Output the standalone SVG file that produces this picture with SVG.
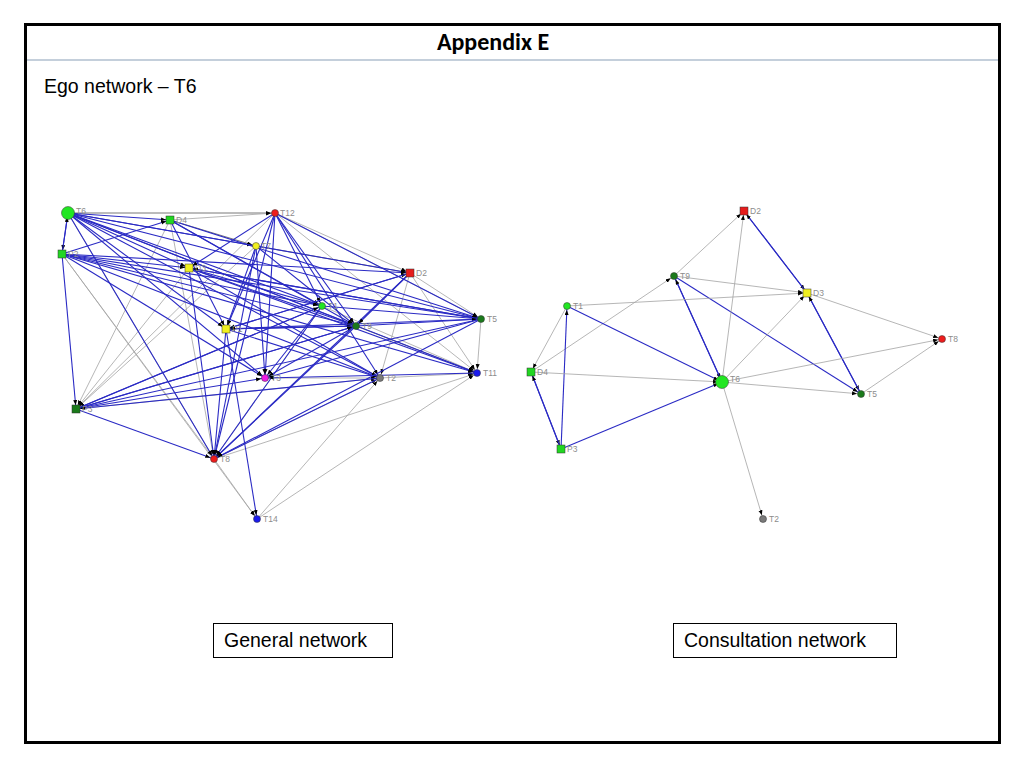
<svg xmlns="http://www.w3.org/2000/svg" width="1024" height="768" viewBox="0 0 1024 768">
<defs>
<style>
.b{stroke:#2a2ac4;stroke-width:1.1;fill:none}
.g{stroke:#a3a3a3;stroke-width:0.8;fill:none}
.k{stroke:#555;stroke-width:0.8;fill:none}
.lbl{font-family:"Liberation Sans",Arial,sans-serif;font-size:8.5px;fill:#8c8c8c}
.nd{stroke:#333;stroke-width:0.5}
.box{fill:#fff;stroke:#000;stroke-width:1}
.cap{font-family:"Liberation Sans",Arial,sans-serif;font-size:19.5px;fill:#000}
</style>
<marker id="a" markerUnits="userSpaceOnUse" markerWidth="6" markerHeight="5" refX="9" refY="2" orient="auto">
<path d="M0,0 L5,2 L0,4 z" fill="#000"/>
</marker>
</defs>
<rect x="0" y="0" width="1024" height="768" fill="#fff"/>
<rect x="25.5" y="24.5" width="974" height="718" fill="#fff" stroke="#000" stroke-width="3"/>
<line x1="27" y1="60" x2="998" y2="60" stroke="#8aa0b8" stroke-width="1.2"/>
<text x="493" y="50" text-anchor="middle" font-family="Carlito,'Liberation Sans',sans-serif" font-weight="bold" font-size="24">Appendix E</text>
<text x="44" y="93" class="cap">Ego network – T6</text>

<g id="connectors">
<g id="left-edges" marker-end="url(#a)">
<line class="k" x1="68" y1="213" x2="275" y2="213"/>
<line class="g" x1="170" y1="220" x2="275" y2="213"/>
<line class="k" x1="170" y1="220" x2="256" y2="246"/>
<line class="k" x1="256" y1="246" x2="410" y2="273"/>
<line class="g" x1="275" y1="213" x2="410" y2="273"/>
<line class="g" x1="275" y1="213" x2="481" y2="319"/>
<line class="g" x1="410" y1="273" x2="481" y2="319"/>
<line class="g" x1="410" y1="273" x2="477" y2="373"/>
<line class="g" x1="410" y1="273" x2="380" y2="378"/>
<line class="g" x1="481" y1="319" x2="477" y2="373"/>
<line class="g" x1="380" y1="378" x2="477" y2="373"/>
<line class="g" x1="214" y1="459" x2="477" y2="373"/>
<line class="g" x1="214" y1="459" x2="380" y2="378"/>
<line class="g" x1="257" y1="519" x2="380" y2="378"/>
<line class="g" x1="257" y1="519" x2="477" y2="373"/>
<line class="g" x1="214" y1="459" x2="257" y2="519"/>
<line class="g" x1="76" y1="409" x2="380" y2="378"/>
<line class="g" x1="62" y1="254" x2="214" y2="459"/>
<line class="g" x1="170" y1="220" x2="76" y2="409"/>
<line class="g" x1="256" y1="246" x2="76" y2="409"/>
<line class="g" x1="275" y1="213" x2="76" y2="409"/>
<line class="g" x1="170" y1="220" x2="214" y2="459"/>
<line class="k" x1="356" y1="326" x2="477" y2="373"/>
<line class="g" x1="322" y1="306" x2="477" y2="373"/>
<line class="g" x1="68" y1="213" x2="214" y2="459"/>
<line class="g" x1="189" y1="268" x2="76" y2="409"/>
<line class="g" x1="275" y1="213" x2="477" y2="373"/>
<line class="g" x1="265" y1="378" x2="380" y2="378"/>
<line class="g" x1="62" y1="254" x2="257" y2="519"/>
<line class="g" x1="322" y1="306" x2="214" y2="459"/>
<line class="b" x1="68" y1="213" x2="170" y2="220"/>
<line class="b" x1="68" y1="213" x2="189" y2="268"/>
<line class="b" x1="68" y1="213" x2="256" y2="246"/>
<line class="b" x1="68" y1="213" x2="226" y2="329"/>
<line class="b" x1="68" y1="213" x2="322" y2="306"/>
<line class="b" x1="68" y1="213" x2="356" y2="326"/>
<line class="b" x1="68" y1="213" x2="481" y2="319"/>
<line class="b" x1="68" y1="213" x2="410" y2="273"/>
<line class="b" x1="68" y1="213" x2="380" y2="378"/>
<line class="b" x1="68" y1="213" x2="477" y2="373"/>
<line class="b" x1="68" y1="213" x2="265" y2="378"/>
<line class="b" x1="68" y1="213" x2="214" y2="459"/>
<line class="b" x1="68" y1="213" x2="62" y2="254"/>
<line class="b" x1="62" y1="254" x2="68" y2="213"/>
<line class="b" x1="62" y1="254" x2="170" y2="220"/>
<line class="b" x1="62" y1="254" x2="322" y2="306"/>
<line class="b" x1="62" y1="254" x2="356" y2="326"/>
<line class="b" x1="62" y1="254" x2="481" y2="319"/>
<line class="b" x1="62" y1="254" x2="410" y2="273"/>
<line class="b" x1="62" y1="254" x2="380" y2="378"/>
<line class="b" x1="62" y1="254" x2="477" y2="373"/>
<line class="b" x1="62" y1="254" x2="265" y2="378"/>
<line class="b" x1="62" y1="254" x2="76" y2="409"/>
<line class="b" x1="62" y1="254" x2="189" y2="268"/>
<line class="b" x1="170" y1="220" x2="322" y2="306"/>
<line class="b" x1="170" y1="220" x2="356" y2="326"/>
<line class="b" x1="170" y1="220" x2="226" y2="329"/>
<line class="b" x1="170" y1="220" x2="481" y2="319"/>
<line class="b" x1="275" y1="213" x2="189" y2="268"/>
<line class="b" x1="275" y1="213" x2="226" y2="329"/>
<line class="b" x1="275" y1="213" x2="322" y2="306"/>
<line class="b" x1="275" y1="213" x2="356" y2="326"/>
<line class="b" x1="275" y1="213" x2="481" y2="319"/>
<line class="b" x1="275" y1="213" x2="380" y2="378"/>
<line class="b" x1="275" y1="213" x2="214" y2="459"/>
<line class="b" x1="275" y1="213" x2="265" y2="378"/>
<line class="b" x1="189" y1="268" x2="322" y2="306"/>
<line class="b" x1="189" y1="268" x2="356" y2="326"/>
<line class="b" x1="189" y1="268" x2="481" y2="319"/>
<line class="b" x1="189" y1="268" x2="380" y2="378"/>
<line class="b" x1="189" y1="268" x2="214" y2="459"/>
<line class="b" x1="189" y1="268" x2="477" y2="373"/>
<line class="b" x1="256" y1="246" x2="226" y2="329"/>
<line class="b" x1="256" y1="246" x2="214" y2="459"/>
<line class="b" x1="256" y1="246" x2="265" y2="378"/>
<line class="b" x1="256" y1="246" x2="356" y2="326"/>
<line class="b" x1="226" y1="329" x2="356" y2="326"/>
<line class="b" x1="226" y1="329" x2="481" y2="319"/>
<line class="b" x1="226" y1="329" x2="380" y2="378"/>
<line class="b" x1="226" y1="329" x2="214" y2="459"/>
<line class="b" x1="226" y1="329" x2="257" y2="519"/>
<line class="b" x1="226" y1="329" x2="410" y2="273"/>
<line class="b" x1="322" y1="306" x2="214" y2="459"/>
<line class="b" x1="322" y1="306" x2="76" y2="409"/>
<line class="b" x1="322" y1="306" x2="265" y2="378"/>
<line class="b" x1="322" y1="306" x2="481" y2="319"/>
<line class="b" x1="356" y1="326" x2="214" y2="459"/>
<line class="b" x1="356" y1="326" x2="76" y2="409"/>
<line class="b" x1="356" y1="326" x2="265" y2="378"/>
<line class="b" x1="356" y1="326" x2="481" y2="319"/>
<line class="b" x1="356" y1="326" x2="226" y2="329"/>
<line class="b" x1="481" y1="319" x2="214" y2="459"/>
<line class="b" x1="481" y1="319" x2="76" y2="409"/>
<line class="b" x1="481" y1="319" x2="265" y2="378"/>
<line class="b" x1="481" y1="319" x2="189" y2="268"/>
<line class="b" x1="410" y1="273" x2="214" y2="459"/>
<line class="b" x1="410" y1="273" x2="356" y2="326"/>
<line class="b" x1="410" y1="273" x2="226" y2="329"/>
<line class="b" x1="76" y1="409" x2="265" y2="378"/>
<line class="b" x1="76" y1="409" x2="214" y2="459"/>
<line class="b" x1="76" y1="409" x2="322" y2="306"/>
<line class="b" x1="76" y1="409" x2="356" y2="326"/>
<line class="b" x1="380" y1="378" x2="214" y2="459"/>
<line class="b" x1="380" y1="378" x2="76" y2="409"/>
<line class="b" x1="477" y1="373" x2="265" y2="378"/>
</g>
<g id="right-edges" marker-end="url(#a)">
<line class="g" x1="674" y1="276" x2="744" y2="211"/>
<line class="g" x1="531" y1="372" x2="674" y2="276"/>
<line class="g" x1="567" y1="306" x2="531" y2="372"/>
<line class="b" x1="561" y1="449" x2="567" y2="306"/>
<line class="b" x1="531" y1="372" x2="561" y2="449"/>
<line class="b" x1="561" y1="449" x2="531" y2="372"/>
<line class="b" x1="561" y1="449" x2="722" y2="382"/>
<line class="g" x1="531" y1="372" x2="722" y2="382"/>
<line class="b" x1="567" y1="306" x2="722" y2="382"/>
<line class="b" x1="674" y1="276" x2="722" y2="382"/>
<line class="b" x1="722" y1="382" x2="674" y2="276"/>
<line class="b" x1="674" y1="276" x2="861" y2="394"/>
<line class="g" x1="674" y1="276" x2="807" y2="293"/>
<line class="g" x1="567" y1="306" x2="807" y2="293"/>
<line class="g" x1="722" y1="382" x2="744" y2="211"/>
<line class="b" x1="744" y1="211" x2="807" y2="293"/>
<line class="b" x1="807" y1="293" x2="744" y2="211"/>
<line class="g" x1="722" y1="382" x2="807" y2="293"/>
<line class="b" x1="807" y1="293" x2="861" y2="394"/>
<line class="b" x1="861" y1="394" x2="807" y2="293"/>
<line class="g" x1="807" y1="293" x2="942" y2="339"/>
<line class="g" x1="722" y1="382" x2="942" y2="339"/>
<line class="g" x1="722" y1="382" x2="861" y2="394"/>
<line class="g" x1="861" y1="394" x2="942" y2="339"/>
<line class="g" x1="722" y1="382" x2="763" y2="519"/>
</g>
</g>

<g id="left-nodes">
<g id="L-T6"><circle class="nd" cx="68" cy="213" r="6.5" fill="#22e622"/><text class="lbl" x="76" y="214">T6</text></g>
<g id="L-D4"><rect class="nd" x="166" y="216" width="8" height="8" fill="#22d622"/><text class="lbl" x="176" y="223">D4</text></g>
<g id="L-P2"><rect class="nd" x="58" y="250" width="8" height="8" fill="#22d622"/><text class="lbl" x="68" y="257">P2</text></g>
<g id="L-T12"><circle class="nd" cx="275" cy="213" r="3.5" fill="#ee1c1c"/><text class="lbl" x="280" y="216">T12</text></g>
<g id="L-T7"><circle class="nd" cx="256" cy="246" r="3.5" fill="#f0f020"/><text class="lbl" x="261" y="249">T7</text></g>
<g id="L-D3"><rect class="nd" x="185" y="264" width="8" height="8" fill="#f0f020"/><text class="lbl" x="195" y="271">D3</text></g>
<g id="L-P1"><rect class="nd" x="222" y="325" width="8" height="8" fill="#f0f020"/><text class="lbl" x="232" y="332">P1</text></g>
<g id="L-D2"><rect class="nd" x="406" y="269" width="8" height="8" fill="#e61c1c"/><text class="lbl" x="416" y="276">D2</text></g>
<g id="L-T1"><circle class="nd" cx="322" cy="306" r="3.5" fill="#22e622"/><text class="lbl" x="328" y="309">T1</text></g>
<g id="L-T9"><circle class="nd" cx="356" cy="326" r="3.5" fill="#1a7a1a"/><text class="lbl" x="362" y="329">T9</text></g>
<g id="L-T5"><circle class="nd" cx="481" cy="319" r="3.5" fill="#1a7a1a"/><text class="lbl" x="487" y="322">T5</text></g>
<g id="L-T3"><circle class="nd" cx="265" cy="378" r="3.5" fill="#ee1ce6"/><text class="lbl" x="271" y="381">T3</text></g>
<g id="L-T2"><circle class="nd" cx="380" cy="378" r="3.5" fill="#7a7a7a"/><text class="lbl" x="386" y="381">T2</text></g>
<g id="L-T11"><circle class="nd" cx="477" cy="373" r="3.5" fill="#1a1aee"/><text class="lbl" x="483" y="376">T11</text></g>
<g id="L-P3"><rect class="nd" x="72" y="405" width="8" height="8" fill="#1a7a1a"/><text class="lbl" x="82" y="412">P3</text></g>
<g id="L-T8"><circle class="nd" cx="214" cy="459" r="3.5" fill="#ee1c1c"/><text class="lbl" x="220" y="462">T8</text></g>
<g id="L-T14"><circle class="nd" cx="257" cy="519" r="3.5" fill="#1a1aee"/><text class="lbl" x="263" y="522">T14</text></g>
</g>

<g id="right-nodes">
<g id="R-D2"><rect class="nd" x="740" y="207" width="8" height="8" fill="#e61c1c"/><text class="lbl" x="750" y="214">D2</text></g>
<g id="R-T9"><circle class="nd" cx="674" cy="276" r="3.5" fill="#1a7a1a"/><text class="lbl" x="680" y="279">T9</text></g>
<g id="R-D3"><rect class="nd" x="803" y="289" width="8" height="8" fill="#f0f020"/><text class="lbl" x="813" y="296">D3</text></g>
<g id="R-T1"><circle class="nd" cx="567" cy="306" r="3.5" fill="#22e622"/><text class="lbl" x="573" y="309">T1</text></g>
<g id="R-T8"><circle class="nd" cx="942" cy="339" r="3.5" fill="#ee1c1c"/><text class="lbl" x="948" y="342">T8</text></g>
<g id="R-D4"><rect class="nd" x="527" y="368" width="8" height="8" fill="#22d622"/><text class="lbl" x="537" y="375">D4</text></g>
<g id="R-T6"><circle class="nd" cx="722" cy="382" r="6.5" fill="#22e622"/><text class="lbl" x="730" y="382">T6</text></g>
<g id="R-T5"><circle class="nd" cx="861" cy="394" r="3.5" fill="#1a7a1a"/><text class="lbl" x="867" y="397">T5</text></g>
<g id="R-P3"><rect class="nd" x="557" y="445" width="8" height="8" fill="#22d622"/><text class="lbl" x="567" y="452">P3</text></g>
<g id="R-T2"><circle class="nd" cx="763" cy="519" r="3.5" fill="#7a7a7a"/><text class="lbl" x="769" y="522">T2</text></g>
</g>

<g id="cap-general"><rect class="box" x="213.5" y="623.5" width="179" height="34"/><text class="cap" x="224" y="647">General network</text></g>
<g id="cap-consult"><rect class="box" x="673.5" y="623.5" width="223" height="34"/><text class="cap" x="684" y="647">Consultation network</text></g>
</svg>
